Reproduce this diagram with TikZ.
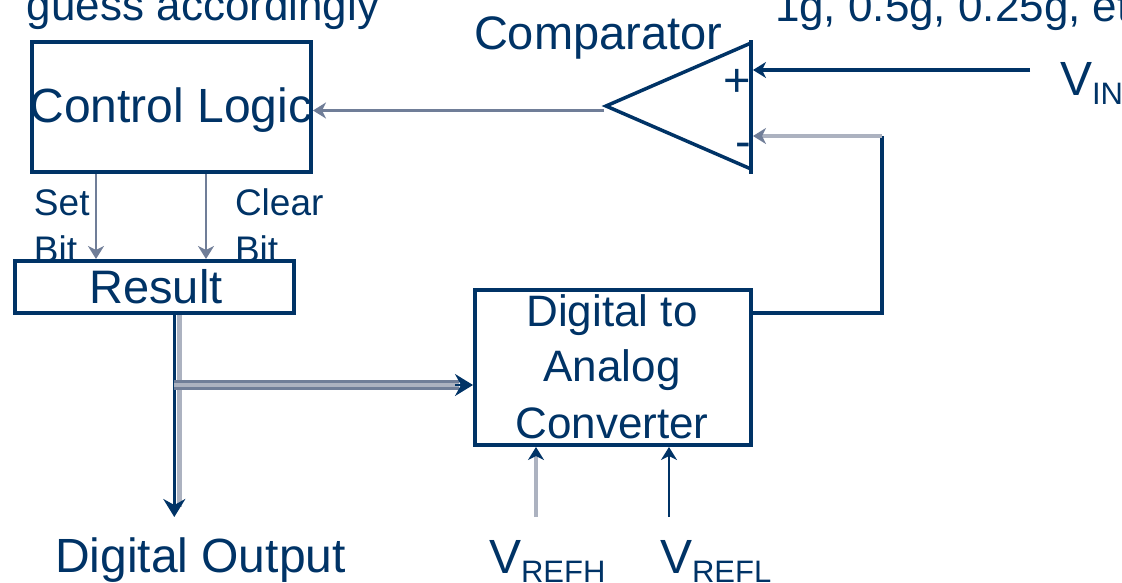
\documentclass[tikz,border=0pt]{standalone}
\usepackage{fontspec}
\setmainfont{Liberation Sans}
\usetikzlibrary{arrows.meta}
\definecolor{navy}{RGB}{0,51,102}
\definecolor{midgray}{RGB}{112,126,152}
\definecolor{lightgray2}{RGB}{172,178,192}
\newcommand{\fs}[1]{\fontsize{#1}{#1}\selectfont}
\newcommand{\Vsub}[1]{{\fs{48}V}\raisebox{-9pt}{\fs{31}#1}}
\begin{document}
\begin{tikzpicture}[x=1pt,y=-1pt,
  every node/.style={inner sep=0pt, outer sep=0pt, text=navy},
  box/.style={draw=navy, line width=4pt, fill=white, outer sep=2pt},
  arr/.style={-{Stealth[length=13pt,width=16pt,inset=4pt]}},
  bigarr/.style={-{Stealth[length=18pt,width=22pt,inset=6pt]}},
  lbl/.style={anchor=base west},
  big/.style={font=\fs{47}},
  mid/.style={font=\fs{44}},
  small/.style={font=\fs{37}}]
\useasboundingbox (0,0) rectangle (1122,582);
\clip (0,0) rectangle (1122,582);

% top texts
\node[lbl, mid] (guess) at (27,20) {guess accordingly};
\node[lbl, mid] (weights) at (775,21) {1g, 0.5g, 0.25g, et};
\node[lbl, big] (cmplabel) at (474,49) {Comparator};

% control logic box
\node[box, minimum width=279pt, minimum height=130pt] (ctrl) at (171.5,107) {};
\node[anchor=base, font=\fs{48}] (ctrltext) at (171,122) {Control Logic};

% set / clear labels
\node[lbl, small] (setl) at (34,215) {Set};
\node[lbl, small] (setb) at (34,262) {Bit};
\node[lbl, small] (clrl) at (235,215) {Clear};
\node[lbl, small] (clrb) at (235,262) {Bit};

% result box
\node[box, minimum width=279pt, minimum height=52pt] (result) at (154,287) {};
\node[anchor=base, big] (restext) at (156,303) {Result};

% DAC box
\node[box, minimum width=276pt, minimum height=155pt] (dac) at (613,367.5) {};
\node[anchor=base, mid] (dac1) at (612,326) {Digital to};
\node[anchor=base, mid] (dac2) at (612,381) {Analog};
\node[anchor=base, mid] (dac3) at (612,438) {Converter};

% comparator
\draw[navy, line width=4pt] (751,40) -- (751,174);
\draw[navy, line width=3.5pt, line join=miter] (751,43) -- (606,106) -- (751,169);
\node[anchor=base, font=\fs{47}] (plus) at (737,96.5) {+};
\node[anchor=base, font=\fs{47}] (minus) at (743,157) {-};
\coordinate (cmpout) at (604,110.5);
\coordinate (inp) at (753,70);
\coordinate (inn) at (753,136);

% bottom labels
\node[lbl, font=\fs{48}] (dout) at (55,572) {Digital Output};
\node[lbl] (vrefh) at (489,573) {\Vsub{REFH}};
\node[lbl] (vrefl) at (660,573) {\Vsub{REFL}};
\node[lbl] (vin) at (1060,95) {\Vsub{IN}};

% comparator -> control logic
\draw[midgray, line width=3.5pt, arr] (cmpout) -- (ctrl.east |- cmpout);

% set / clear arrows
\coordinate (setx) at (96,0);
\coordinate (clrx) at (206,0);
\draw[midgray, line width=2.5pt, arr] (ctrl.south -| setx) -- (result.north -| setx);
\draw[midgray, line width=2.5pt, arr] (ctrl.south -| clrx) -- (result.north -| clrx);

% digital output
\coordinate (outx) at (174.3,0);
\coordinate (grx) at (179,0);
\coordinate (douttip) at (176,517);
\draw[lightgray2, line width=5pt, shorten >=10pt] (result.south -| grx) -- (grx |- douttip);
\draw[navy, line width=3pt, bigarr] (result.south -| outx) -- (outx |- douttip);

% result -> DAC (double line)
\coordinate (jn) at (174,385);
\coordinate (dacin) at (dac.west |- jn);
\draw[midgray, line width=10pt, shorten >=14pt] (jn) -- (dacin);
\draw[lightgray2, line width=4.5pt, shorten >=14pt] (jn) -- (dacin);
\draw[navy, line width=2pt, bigarr] ([xshift=-18pt]dacin) -- (dacin);

% references
\coordinate (rh) at (536,517);
\coordinate (rl) at (669,517);
\draw[lightgray2, line width=3.5pt, -{Stealth[length=13pt,width=16pt,inset=4pt,color=navy]}] (rh) -- (rh |- dac.south);
\draw[navy, line width=2.5pt, arr] (rl) -- (rl |- dac.south);

% VIN
\coordinate (vin0) at (1030,70);
\draw[navy, line width=3.5pt, arr] (vin0) -- (inp);

% feedback
\coordinate (fbx) at (882,313);
\draw[navy, line width=3.5pt, line join=miter] (dac.east |- fbx) -- (fbx) -- (fbx |- inn);
\draw[lightgray2, line width=4pt, -{Stealth[length=13pt,width=16pt,inset=4pt,color=midgray]}] (fbx |- inn) -- (inn);
\end{tikzpicture}
\end{document}
